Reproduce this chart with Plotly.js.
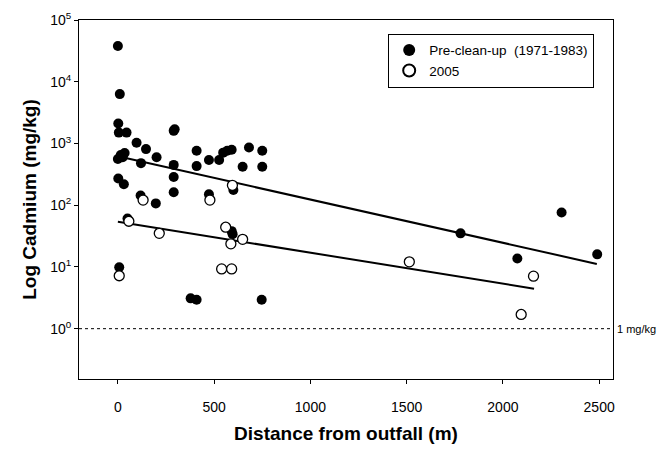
<!DOCTYPE html>
<html>
<head>
<meta charset="utf-8">
<script src="https://cdn.plot.ly/plotly-3.0.1.min.js"></script>
<style>html,body{margin:0;padding:0;background:#fff;}#chart{width:667px;height:449px;}</style>
</head>
<body>
<div id="chart"></div>
<script>
// Pre-clean-up (1971-1983) samples
const preX = [0, 10, 2, 5, 45, 290, 295, 97, 146, 201, 0, 15, 35, 25, 120, 290, 409, 409, 2, 31, 290, 290, 118,
  473, 526, 547, 568, 591, 681, 750, 648, 750, 600, 473, 197, 50, 7, 378, 409, 591, 596, 747,
  1780, 2075, 2305, 2490];
const preY = [38000, 6300, 2100, 1500, 1500, 1600, 1700, 1030, 810, 600, 560, 650, 700, 600, 480, 450, 760, 430, 270, 218, 287, 162, 144,
  540, 540, 710, 760, 790, 860, 760, 420, 420, 176, 150, 107, 61, 9.9, 3.1, 2.95, 38, 34, 2.95,
  35, 13.7, 76, 16];
// 2005 samples
const postX = [131, 478, 595, 57, 215, 560, 587, 648, 539, 591, 7, 1514, 2159, 2095];
const postY = [121, 121, 210, 55, 35, 44, 23.7, 28, 9.3, 9.3, 7.2, 12.1, 7.1, 1.7];
// regression lines (endpoints of fitted lines)
const preFitX = [0, 2488];
const preFitY = [620, 11.2];
const postFitX = [0, 2162];
const postFitY = [54, 4.45];
// guideline
const guideValue = 1;
const guideLabel = "1 mg/kg";
const yTickVals = [1, 10, 100, 1000, 10000, 100000];
const yTickText = ["10<sup>0</sup>", "10<sup>1</sup>", "10<sup>2</sup>", "10<sup>3</sup>", "10<sup>4</sup>", "10<sup>5</sup>"];
const xTickVals = [0, 500, 1000, 1500, 2000, 2500];

const FONT = "Arial, 'Liberation Sans', sans-serif";

const traces = [
  {x: preFitX, y: preFitY, mode: 'lines', line: {color: '#000', width: 2}, showlegend: false, hoverinfo: 'skip'},
  {x: postFitX, y: postFitY, mode: 'lines', line: {color: '#000', width: 2}, showlegend: false, hoverinfo: 'skip'},
  {x: preX, y: preY, mode: 'markers', name: 'Pre-clean-up\u00A0\u00A0(1971-1983)',
   marker: {symbol: 'circle', size: 10, color: '#000', line: {color: '#000', width: 0}}},
  {x: postX, y: postY, mode: 'markers', name: '2005',
   marker: {symbol: 'circle', size: 10, color: '#fff', line: {color: '#000', width: 1.3}}}
];

const layout = {
  width: 667, height: 449,
  margin: {l: 79, r: 54, t: 20, b: 70},
  paper_bgcolor: '#fff', plot_bgcolor: '#fff',
  font: {family: FONT, size: 14, color: '#000'},
  showlegend: true,
  legend: {x: 0.579, y: 0.962, xanchor: 'left', yanchor: 'top',
    bgcolor: '#fff', bordercolor: '#000', borderwidth: 1,
    font: {family: FONT, size: 13.5, color: '#000'}, itemsizing: 'constant',
    tracegroupgap: 0},
  xaxis: {
    range: [-202, 2572], tickvals: xTickVals, ticks: 'outside', ticklen: 4, tickcolor: '#000',
    ticklabelstandoff: 11,
    showgrid: false, zeroline: false, showline: true, linecolor: '#000', linewidth: 1, mirror: true,
    tickfont: {family: FONT, size: 14, color: '#000'},
    title: {text: 'Distance from outfall (m)', font: {family: FONT, size: 19, color: '#000', weight: 'bold'}, standoff: 12}
  },
  yaxis: {
    type: 'log', range: [-0.815, 5.0], tickvals: yTickVals, ticktext: yTickText,
    ticks: 'outside', ticklen: 4, tickcolor: '#000',
    showgrid: false, zeroline: false, showline: true, linecolor: '#000', linewidth: 1, mirror: true,
    tickfont: {family: FONT, size: 14, color: '#000'},
    title: {text: 'Log Cadmium (mg/kg)', font: {family: FONT, size: 19, color: '#000', weight: 'bold'}, standoff: 8}
  },
  shapes: [
    {type: 'line', xref: 'paper', x0: 0, x1: 1, yref: 'y', y0: guideValue, y1: guideValue,
     line: {color: '#000', width: 1, dash: 'dot'}, layer: 'below'}
  ],
  annotations: [
    {xref: 'paper', x: 1, xanchor: 'left', xshift: 2, yref: 'y', y: Math.log10(guideValue), yanchor: 'middle',
     text: guideLabel, showarrow: false, font: {family: FONT, size: 11, color: '#000'}}
  ]
};

Plotly.newPlot('chart', traces, layout, {displayModeBar: false, staticPlot: true});
</script>
</body>
</html>
